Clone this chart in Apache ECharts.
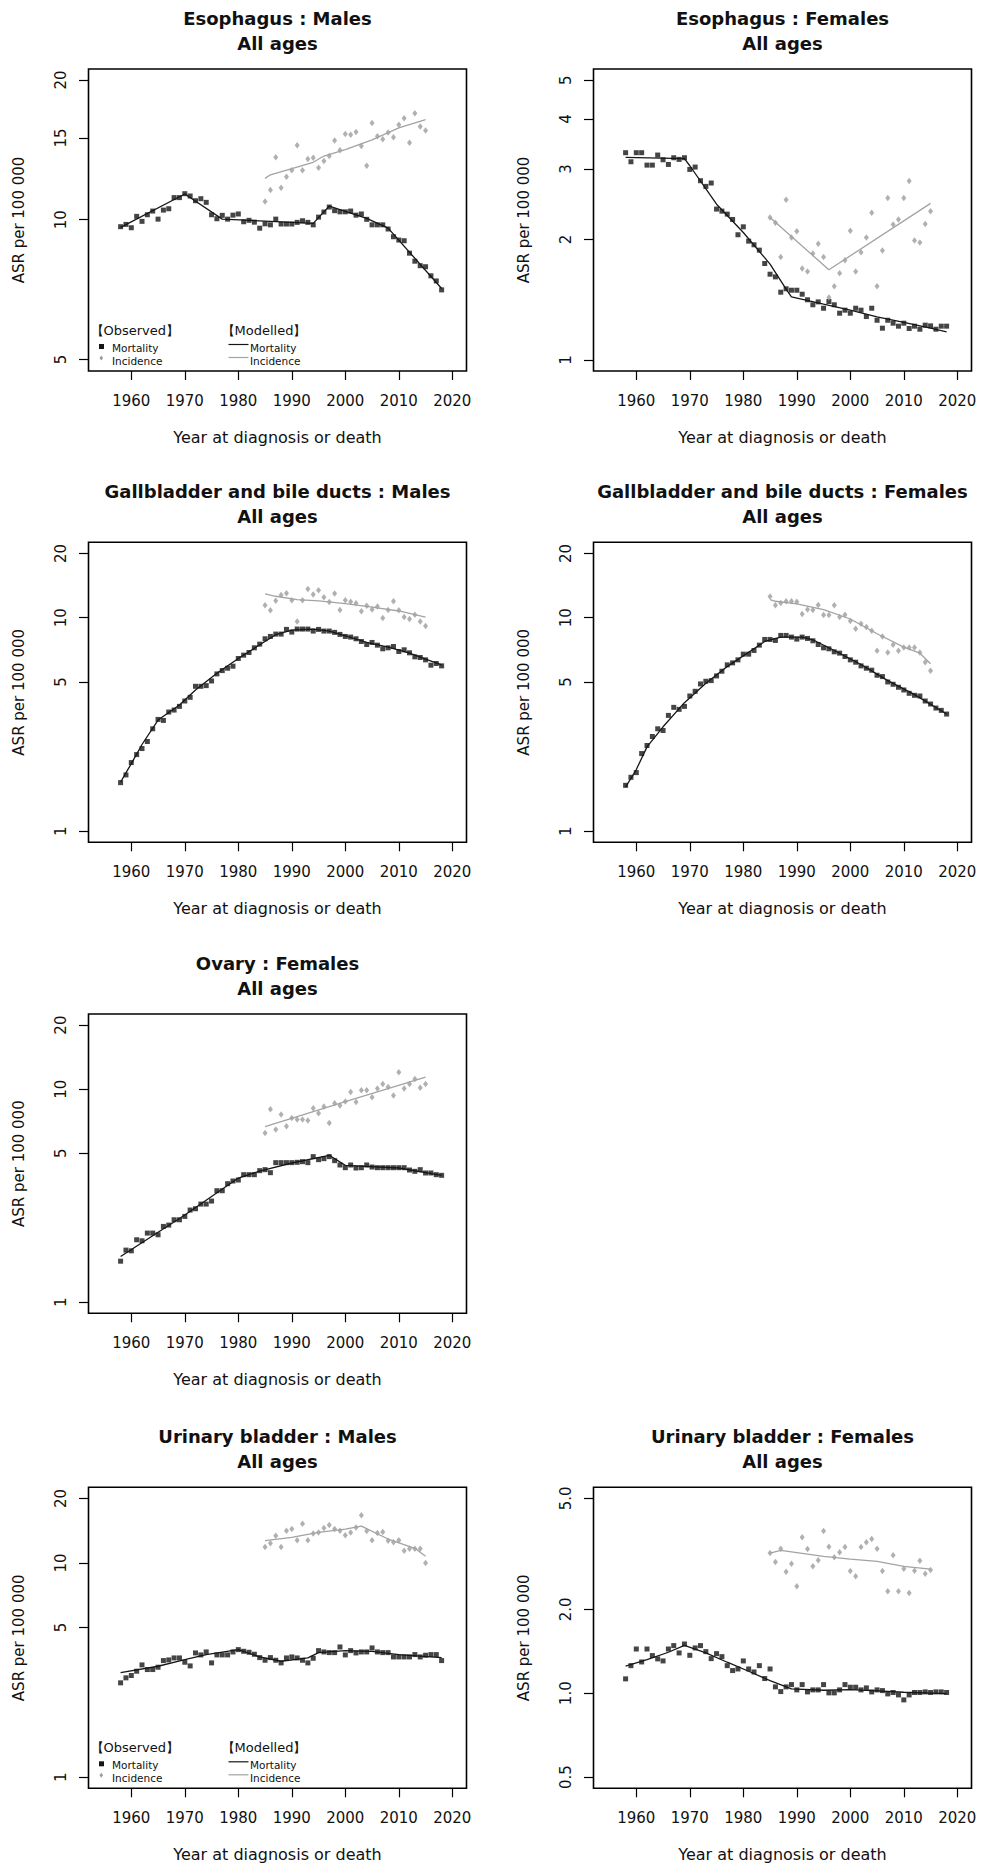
<!DOCTYPE html>
<html>
<head>
<meta charset="utf-8">
<script src="https://cdn.jsdelivr.net/npm/echarts@6/dist/echarts.min.js"></script>
<style>
html,body{margin:0;padding:0;background:#fff;}
#chart{width:981px;height:1868px;}
</style>
</head>
<body>
<div id="chart"></div>
<script>
// ---------------- DATA ----------------
const yearsMort = [1958,1959,1960,1961,1962,1963,1964,1965,1966,1967,1968,1969,1970,1971,1972,1973,1974,1975,1976,1977,1978,1979,1980,1981,1982,1983,1984,1985,1986,1987,1988,1989,1990,1991,1992,1993,1994,1995,1996,1997,1998,1999,2000,2001,2002,2003,2004,2005,2006,2007,2008,2009,2010,2011,2012,2013,2014,2015,2016,2017,2018];
const yearsInc = [1985,1986,1987,1988,1989,1990,1991,1992,1993,1994,1995,1996,1997,1998,1999,2000,2001,2002,2003,2004,2005,2006,2007,2008,2009,2010,2011,2012,2013,2014,2015];
const xTickYears = [1960,1970,1980,1990,2000,2010,2020];

// Esophagus : Males
const esoMaleMort = [9.66,9.77,9.61,10.17,9.92,10.25,10.44,10.03,10.49,10.56,11.16,11.16,11.38,11.25,10.99,11.10,10.90,10.25,10.05,10.22,10.03,10.23,10.29,9.90,9.97,9.88,9.59,9.80,9.75,10.03,9.79,9.79,9.79,9.87,9.95,9.87,9.75,10.13,10.39,10.65,10.46,10.40,10.40,10.44,10.23,10.29,10.02,9.75,9.75,9.75,9.55,9.19,9.04,9.01,8.47,8.14,7.96,7.92,7.57,7.38,7.06];
const esoMaleInc = [10.95,11.59,13.63,11.72,12.38,12.78,14.47,12.78,13.52,13.61,12.95,13.39,13.72,14.81,14.11,15.30,15.25,15.46,14.42,13.08,16.17,15.13,14.91,15.41,15.06,16.03,16.54,14.66,16.96,15.88,15.57];
const esoMaleMortModelYears = [1958,1970,1977,1994,1997,2004,2008,2018];
const esoMaleMortModel = [9.63,11.36,10.03,9.82,10.70,10.07,9.59,7.11];
const esoMaleIncModelYears = [1985,1986,1994,1996,2000,2005,2010,2015];
const esoMaleIncModel = [12.28,12.50,13.30,13.72,14.16,14.86,15.77,16.44];
const esoMaleTicks = [5,10,15,20];

// Esophagus : Females
const esoFemMort = [3.293,3.126,3.293,3.293,3.066,3.066,3.249,3.162,3.078,3.199,3.169,3.199,2.991,3.032,2.803,2.713,2.766,2.381,2.353,2.313,2.243,2.054,2.150,1.980,1.939,1.880,1.741,1.637,1.612,1.476,1.505,1.493,1.493,1.459,1.413,1.373,1.396,1.346,1.399,1.373,1.308,1.331,1.308,1.346,1.331,1.283,1.346,1.256,1.200,1.256,1.235,1.214,1.235,1.198,1.214,1.193,1.221,1.216,1.193,1.214,1.214];
const esoFemInc = [2.269,2.200,1.806,2.512,2.022,2.097,1.692,1.663,1.845,1.950,1.806,1.432,1.528,1.647,1.775,2.101,1.663,1.858,2.022,2.331,1.528,1.877,2.536,2.179,2.243,2.536,2.797,1.988,1.965,2.184,2.353];
const esoFemMortModelYears = [1958,1969,1970,1975,1980,1985,1988,1989,1995,2000,2005,2010,2015,2018];
const esoFemMortModel = [3.205,3.181,3.055,2.449,2.081,1.735,1.502,1.437,1.378,1.331,1.281,1.240,1.200,1.175];
const esoFemIncModelYears = [1985,1996,2015];
const esoFemIncModel = [2.269,1.679,2.460];
const esoFemTicks = [1,2,3,4,5];

// Gallbladder and bile ducts : Males
const gbMaleMort = [1.688,1.834,2.096,2.285,2.438,2.631,3.017,3.338,3.302,3.614,3.693,3.842,4.072,4.236,4.771,4.771,4.806,5.054,5.454,5.654,5.800,5.927,6.439,6.676,6.871,7.227,7.519,7.966,8.170,8.379,8.379,8.815,8.565,8.846,8.846,8.846,8.658,8.815,8.658,8.658,8.534,8.351,8.170,8.112,7.966,7.738,7.491,7.656,7.437,7.150,7.227,7.330,6.947,7.073,6.847,6.556,6.509,6.346,5.991,6.100,5.948];
const gbMaleInc = [11.43,10.83,12.02,12.78,13.02,12.06,9.61,12.06,13.64,12.83,13.45,12.46,11.85,12.97,10.87,12.06,11.89,11.68,10.71,11.39,10.91,11.27,9.96,10.87,11.94,10.83,10.07,9.86,10.33,9.61,9.14];
const gbMaleMortModelYears = [1958,1960,1962,1965,1969,1972,1976,1980,1984,1987,1990,1994,1997,2000,2004,2008,2012,2015,2018];
const gbMaleMortModel = [1.700,2.073,2.547,3.314,3.898,4.586,5.493,6.439,7.464,8.322,8.750,8.846,8.658,8.230,7.656,7.281,6.823,6.392,6.012];
const gbMaleIncModelYears = [1985,1987,1991,1995,2000,2005,2010,2015];
const gbMaleIncModel = [12.92,12.60,12.15,11.98,11.64,11.22,10.75,10.07];

// Gallbladder and bile ducts : Females
const gbFemMort = [1.640,1.788,1.881,2.310,2.519,2.777,3.017,2.963,3.486,3.802,3.721,3.842,4.298,4.521,4.894,5.037,5.074,5.337,5.614,6.012,6.143,6.346,6.749,6.749,7.022,7.437,7.909,7.909,7.824,8.259,8.259,8.112,7.938,8.112,7.995,7.795,7.491,7.227,7.150,6.921,6.823,6.580,6.346,6.187,5.948,5.800,5.676,5.375,5.298,5.001,4.876,4.721,4.586,4.424,4.329,4.298,4.072,3.942,3.774,3.680,3.537];
const gbFemInc = [12.56,11.43,11.72,11.94,11.94,11.89,10.40,10.91,10.87,11.47,10.29,10.29,11.43,10.07,10.33,9.65,8.88,9.37,9.04,8.69,7.00,8.17,6.87,7.46,7.00,7.25,7.25,7.25,6.87,6.19,5.65];
const gbFemMortModelYears = [1958,1960,1962,1965,1969,1973,1977,1980,1984,1987,1991,1993,1997,2002,2007,2012,2018];
const gbFemMortModel = [1.610,1.943,2.483,3.083,3.999,4.929,5.904,6.627,7.738,8.112,8.112,7.882,7.022,6.034,5.074,4.360,3.537];
const gbFemIncModelYears = [1985,1986,1990,1995,2000,2005,2010,2013,2015];
const gbFemIncModel = [12.15,11.94,11.60,10.91,9.86,8.41,7.28,6.82,6.08];

// Ovary : Females
const ovaryMort = [1.558,1.756,1.743,1.964,1.943,2.111,2.111,2.073,2.269,2.302,2.438,2.438,2.528,2.708,2.747,2.889,2.889,2.985,3.338,3.338,3.601,3.707,3.747,3.970,3.970,3.970,4.146,4.191,4.057,4.521,4.521,4.521,4.521,4.537,4.570,4.521,4.825,4.670,4.721,4.825,4.620,4.408,4.281,4.408,4.267,4.281,4.408,4.312,4.281,4.281,4.281,4.281,4.281,4.281,4.175,4.116,4.191,4.043,4.043,3.970,3.942];
const ovaryInc = [6.232,8.054,6.463,7.601,6.699,7.330,7.199,7.199,7.121,8.141,7.711,8.289,6.947,8.594,8.379,8.750,9.716,8.718,9.893,9.893,9.171,10.07,10.59,10.25,9.338,12.02,10.07,10.59,11.18,10.15,10.59];
const ovaryMortModelYears = [1958,1970,1980,1984,1990,1997,2000,2010,2018];
const ovaryMortModel = [1.640,2.565,3.829,4.130,4.504,4.894,4.392,4.267,3.942];
const ovaryIncModelYears = [1985,2000,2015];
const ovaryIncModel = [6.676,8.75,11.39];

// Urinary bladder : Males
const ubMaleMort = [2.756,2.908,2.982,3.123,3.342,3.179,3.179,3.260,3.501,3.526,3.602,3.602,3.439,3.306,3.801,3.721,3.842,3.415,3.721,3.721,3.721,3.842,3.939,3.869,3.828,3.747,3.615,3.514,3.615,3.514,3.415,3.602,3.641,3.602,3.514,3.415,3.589,3.896,3.842,3.814,3.814,4.053,3.721,3.896,3.801,3.842,3.842,4.010,3.842,3.814,3.814,3.641,3.641,3.641,3.641,3.734,3.641,3.707,3.734,3.734,3.501];
const ubMaleInc = [11.87,12.35,13.40,11.87,14.14,14.39,12.75,15.24,12.75,13.74,13.89,14.55,15.02,14.39,14.14,13.45,13.89,14.65,16.72,14.09,12.75,13.79,13.94,12.70,12.48,12.75,11.41,11.66,11.66,11.66,10.00];
const ubMaleMortModelYears = [1958,1965,1970,1974,1980,1984,1988,1993,1995,2000,2005,2010,2018];
const ubMaleMortModel = [3.078,3.294,3.539,3.734,3.939,3.641,3.476,3.602,3.814,3.896,3.869,3.734,3.615];
const ubMaleIncModelYears = [1985,1990,1995,2000,2003,2008,2013,2015];
const ubMaleIncModel = [12.70,13.16,13.89,14.39,14.86,12.93,11.70,10.74];

// Urinary bladder : Females
const ubFemMort = [1.126,1.256,1.441,1.295,1.441,1.365,1.328,1.306,1.441,1.482,1.395,1.502,1.368,1.454,1.482,1.410,1.331,1.387,1.353,1.256,1.206,1.222,1.306,1.222,1.192,1.256,1.129,1.222,1.054,1.014,1.054,1.074,1.028,1.074,1.011,1.028,1.028,1.074,1.003,1.003,1.028,1.074,1.051,1.051,1.028,1.045,1.011,1.028,1.022,0.9945,1.006,0.9863,0.9465,0.9863,1.006,1.006,1.011,1.006,1.011,1.011,1.006];
const ubFemInc = [3.184,2.956,3.300,2.730,2.916,2.418,3.624,3.291,2.853,2.997,3.818,3.355,3.072,3.202,3.346,2.745,2.627,3.346,3.478,3.574,3.300,2.745,2.320,3.123,2.320,2.798,2.289,2.752,2.989,2.685,2.767];
const ubFemMortModelYears = [1958,1962,1966,1969,1973,1977,1981,1985,1989,1995,2000,2005,2010,2018];
const ubFemMortModel = [1.250,1.320,1.403,1.486,1.395,1.292,1.199,1.110,1.036,1.025,1.031,1.019,1.008,0.997];
const ubFemIncModelYears = [1985,1987,1995,2000,2005,2010,2015];
const ubFemIncModel = [3.184,3.255,3.097,3.030,2.972,2.853,2.790];
const ubFemTicks = [0.5,1,2,5];

const stdTicks = [1,5,10,20];

// ---------------- PANEL SETUP ----------------
const panels = [
  {title:'Esophagus : Males', col:0,row:0, mort:esoMaleMort, inc:esoMaleInc, mmY:esoMaleMortModelYears, mmV:esoMaleMortModel, imY:esoMaleIncModelYears, imV:esoMaleIncModel, ticks:esoMaleTicks, yMin:4.72, yMax:21.13, dec:0, legend:true},
  {title:'Esophagus : Females', col:1,row:0, mort:esoFemMort, inc:esoFemInc, mmY:esoFemMortModelYears, mmV:esoFemMortModel, imY:esoFemIncModelYears, imV:esoFemIncModel, ticks:esoFemTicks, yMin:0.938, yMax:5.33, dec:0, legend:false},
  {title:'Gallbladder and bile ducts : Males', col:0,row:1, mort:gbMaleMort, inc:gbMaleInc, mmY:gbMaleMortModelYears, mmV:gbMaleMortModel, imY:gbMaleIncModelYears, imV:gbMaleIncModel, ticks:stdTicks, yMin:0.887, yMax:22.55, dec:0, legend:false},
  {title:'Gallbladder and bile ducts : Females', col:1,row:1, mort:gbFemMort, inc:gbFemInc, mmY:gbFemMortModelYears, mmV:gbFemMortModel, imY:gbFemIncModelYears, imV:gbFemIncModel, ticks:stdTicks, yMin:0.887, yMax:22.55, dec:0, legend:false},
  {title:'Ovary : Females', col:0,row:2, mort:ovaryMort, inc:ovaryInc, mmY:ovaryMortModelYears, mmV:ovaryMortModel, imY:ovaryIncModelYears, imV:ovaryIncModel, ticks:stdTicks, yMin:0.887, yMax:22.55, dec:0, legend:false},
  {title:'Urinary bladder : Males', col:0,row:3, mort:ubMaleMort, inc:ubMaleInc, mmY:ubMaleMortModelYears, mmV:ubMaleMortModel, imY:ubMaleIncModelYears, imV:ubMaleIncModel, ticks:stdTicks, yMin:0.887, yMax:22.55, dec:0, legend:true},
  {title:'Urinary bladder : Females', col:1,row:3, mort:ubFemMort, inc:ubFemInc, mmY:ubFemMortModelYears, mmV:ubFemMortModel, imY:ubFemIncModelYears, imV:ubFemIncModel, ticks:ubFemTicks, yMin:0.456, yMax:5.48, dec:1, legend:false}
];

// ---------------- LAYOUT ----------------
const COL_LEFT = [88.5, 593.5];
const GRID_W = 378;
const ROW_TOP = [69, 542.3, 1014, 1487.3];
const ROW_H = [302, 300, 299.3, 301];
const X_MIN = 1952.0, X_MAX = 2022.65;
const FONT = '"DejaVu Sans", "Liberation Sans", Arial, sans-serif';
const BLACK = '#161616', GREY = '#9c9c9c', TXT = '#111';

const grid = [], xAxis = [], yAxis = [], series = [], title = [], graphic = [];

panels.forEach((p, i) => {
  const L = COL_LEFT[p.col], T = ROW_TOP[p.row], H = ROW_H[p.row];
  grid.push({left:L, top:T, width:GRID_W, height:H, show:true, borderColor:'#000', borderWidth:1.6, backgroundColor:'transparent', containLabel:false, outerBoundsMode:'none'});
  xAxis.push({
    gridIndex:i, type:'value', min:X_MIN, max:X_MAX,
    axisLine:{show:false}, splitLine:{show:false},
    axisTick:{show:true, length:9, customValues:xTickYears, lineStyle:{color:'#000', width:1.2}},
    axisLabel:{show:true, customValues:xTickYears, margin:22, fontFamily:FONT, fontSize:15, color:TXT, formatter:v=>String(Math.round(v))},
    name:'Year at diagnosis or death', nameLocation:'middle', nameGap:58.5,
    nameTextStyle:{fontFamily:FONT, fontSize:16, color:TXT}
  });
  yAxis.push({
    gridIndex:i, type:'log', logBase:10, min:p.yMin, max:p.yMax,
    axisLine:{show:false}, splitLine:{show:false}, minorTick:{show:false},
    axisTick:{show:true, length:9.5, customValues:p.ticks, lineStyle:{color:'#000', width:1.2}},
    axisLabel:{show:true, customValues:p.ticks, rotate:90, margin:20, fontFamily:FONT, fontSize:15, color:TXT,
      formatter:v=>Number(v).toFixed(p.dec)},
    name:'ASR per 100 000', nameLocation:'middle', nameRotate:90, nameGap:62,
    nameTextStyle:{fontFamily:FONT, fontSize:15, color:TXT}
  });
  series.push({
    type:'scatter', name:'Mortality (observed)', xAxisIndex:i, yAxisIndex:i,
    data: yearsMort.map((y,k)=>[y, p.mort[k]]),
    symbol:'rect', symbolSize:5, itemStyle:{color:BLACK}, silent:true, z:2
  });
  series.push({
    type:'scatter', name:'Incidence (observed)', xAxisIndex:i, yAxisIndex:i,
    data: yearsInc.map((y,k)=>[y, p.inc[k]]),
    symbol:'diamond', symbolSize:[5,6.5], itemStyle:{color:GREY}, silent:true, z:2
  });
  series.push({
    type:'line', name:'Mortality (modelled)', xAxisIndex:i, yAxisIndex:i,
    data: p.mmY.map((y,k)=>[y, p.mmV[k]]),
    showSymbol:false, symbol:'none', lineStyle:{color:BLACK, width:1.3}, silent:true, z:3
  });
  series.push({
    type:'line', name:'Incidence (modelled)', xAxisIndex:i, yAxisIndex:i,
    data: p.imY.map((y,k)=>[y, p.imV[k]]),
    showSymbol:false, symbol:'none', lineStyle:{color:'#a3a3a3', width:1.3}, silent:true, z:3
  });
  const cx = L + GRID_W/2;
  title.push({
    text: p.title + '\nAll ages', left: cx, top: T - 51 - 12.5, textAlign:'center', padding:0, itemGap:0,
    textStyle:{fontFamily:FONT, fontSize:18, fontWeight:'bold', lineHeight:25, color:TXT}
  });
  if (p.legend) {
    const B = T + H;
    const tstyle = (txt, size) => ({text:txt, fontFamily:FONT, fontSize:size, fill:TXT, align:'left', verticalAlign:'middle'});
    graphic.push({type:'text', x:L+2, y:B-41, style:tstyle('【Observed】',13), silent:true});
    graphic.push({type:'text', x:L+133, y:B-41, style:tstyle('【Modelled】',13), silent:true});
    graphic.push({type:'rect', shape:{x:L+10.5, y:B-27, width:5, height:5}, style:{fill:BLACK}, silent:true});
    graphic.push({type:'polygon', shape:{points:[[L+12.8,B-15.5],[L+14.6,B-13],[L+12.8,B-10.5],[L+11,B-13]]}, style:{fill:GREY}, silent:true});
    graphic.push({type:'text', x:L+23.5, y:B-23.5, style:tstyle('Mortality',10.5), silent:true});
    graphic.push({type:'text', x:L+23.5, y:B-10.5, style:tstyle('Incidence',10.5), silent:true});
    graphic.push({type:'line', shape:{x1:L+140, y1:B-26.5, x2:L+160, y2:B-26.5}, style:{stroke:BLACK, lineWidth:1.2}, silent:true});
    graphic.push({type:'line', shape:{x1:L+140, y1:B-13.5, x2:L+160, y2:B-13.5}, style:{stroke:'#a3a3a3', lineWidth:1.2}, silent:true});
    graphic.push({type:'text', x:L+161.5, y:B-23.5, style:tstyle('Mortality',10.5), silent:true});
    graphic.push({type:'text', x:L+161.5, y:B-10.5, style:tstyle('Incidence',10.5), silent:true});
  }
});

const chart = echarts.init(document.getElementById('chart'), null, {renderer:'svg', width:981, height:1868});
chart.setOption({
  animation:false,
  backgroundColor:'#ffffff',
  textStyle:{fontFamily:FONT},
  title, grid, xAxis, yAxis, series, graphic
});
</script>
</body>
</html>
